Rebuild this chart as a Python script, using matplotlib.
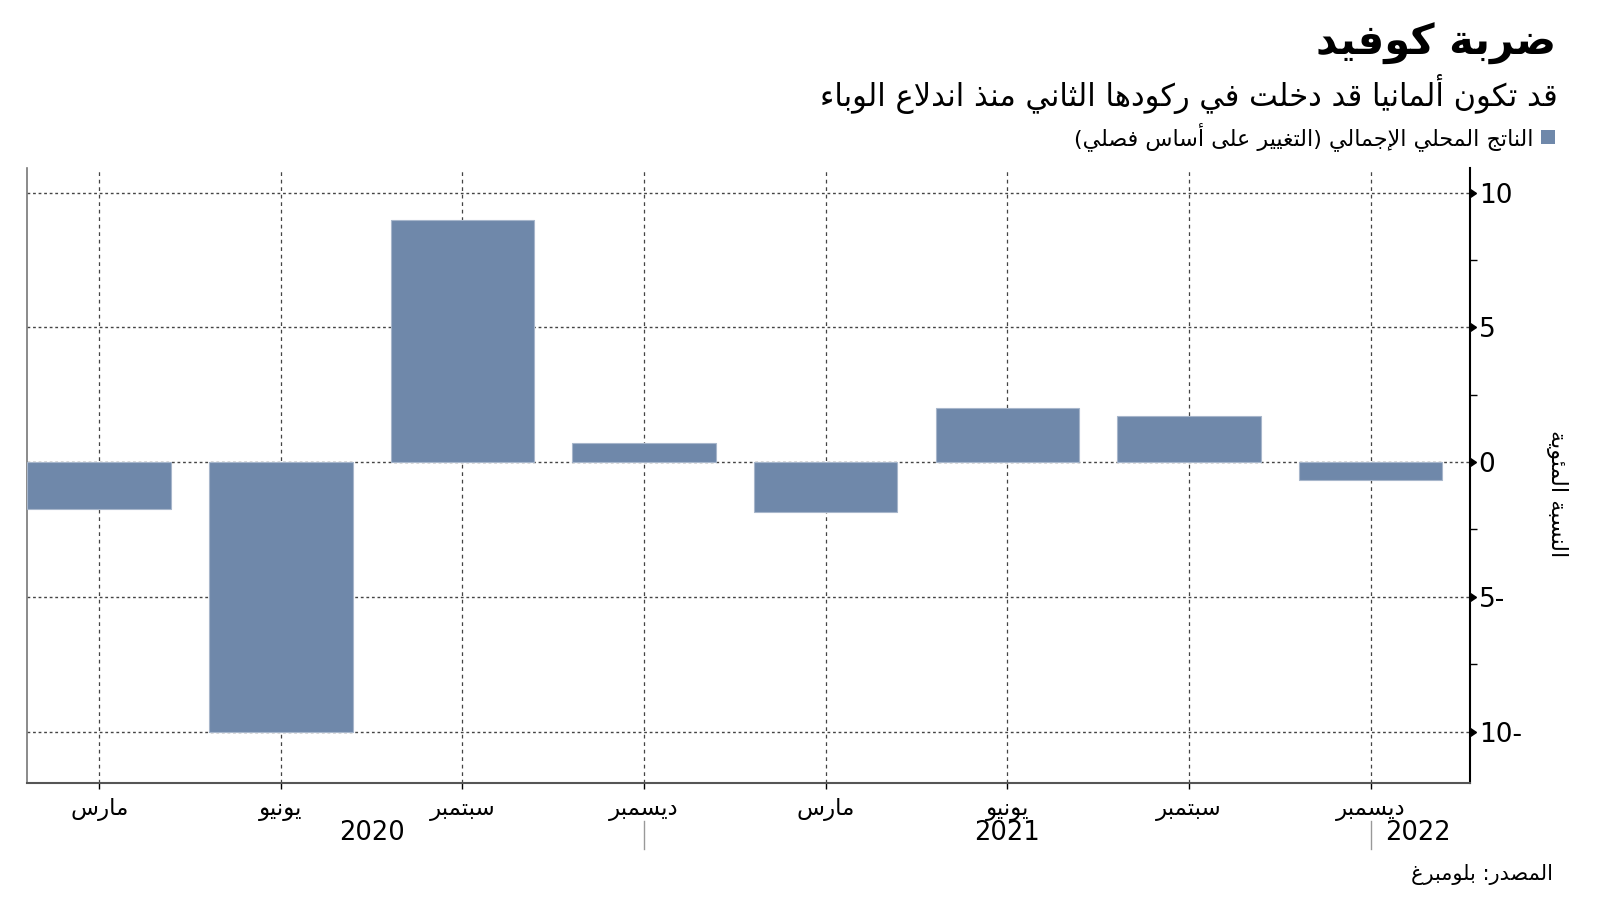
import matplotlib
matplotlib.use("Agg")
import matplotlib.pyplot as plt
from matplotlib.patches import Rectangle
import numpy as np

# --- данные ---
quarters = ['مارس', 'يونيو', 'سبتمبر', 'ديسمبر', 'مارس', 'يونيو', 'سبتمبر', 'ديسمبر']
gdp_change = [-1.75, -10.0, 9.0, 0.7, -1.85, 2.0, 1.7, -0.65]
years = ['2020', '2021', '2022']
year_pos = [1.5, 5.0, 7.26]
year_breaks = [3, 7]
y_ticks = [10, 5, 0, -5, -10]
y_tick_labels = ['10', '5', '0', '5-', '10-']

title = 'ضربة كوفيد'
subtitle = 'قد تكون ألمانيا قد دخلت في ركودها الثاني منذ اندلاع الوباء'
legend_label = 'الناتج المحلي الإجمالي (التغيير على أساس فصلي)'
y_label = 'النسبة المئوية'
source = 'المصدر: بلومبرغ'

BAR_COLOR = '#6f88aa'

# matplotlib не умеет сам соединять арабские буквы - делаем это вручную
# через формы представления (Arabic Presentation Forms-B) и переворачиваем строку
DUAL = {'ئ': 0xFE89, 'ب': 0xFE8F, 'ت': 0xFE95, 'ث': 0xFE99, 'ج': 0xFE9D, 'ح': 0xFEA1,
        'خ': 0xFEA5, 'س': 0xFEB1, 'ش': 0xFEB5, 'ص': 0xFEB9, 'ض': 0xFEBD, 'ط': 0xFEC1,
        'ظ': 0xFEC5, 'ع': 0xFEC9, 'غ': 0xFECD, 'ف': 0xFED1, 'ق': 0xFED5, 'ك': 0xFED9,
        'ل': 0xFEDD, 'م': 0xFEE1, 'ن': 0xFEE5, 'ه': 0xFEE9, 'ي': 0xFEF1}
RIGHT = {'آ': 0xFE81, 'أ': 0xFE83, 'ؤ': 0xFE85, 'إ': 0xFE87, 'ا': 0xFE8D, 'ة': 0xFE93,
         'د': 0xFEA9, 'ذ': 0xFEAB, 'ر': 0xFEAD, 'ز': 0xFEAF, 'و': 0xFEED, 'ى': 0xFEEF}
LAM_ALEF = {'آ': 0xFEF5, 'أ': 0xFEF7, 'إ': 0xFEF9, 'ا': 0xFEFB}
MIRROR = {'(': ')', ')': '('}


def shape_arabic(text):
    units = []  # (base code or char, joining type)
    i = 0
    while i < len(text):
        c = text[i]
        if c == 'ل' and i + 1 < len(text) and text[i + 1] in LAM_ALEF:
            units.append((LAM_ALEF[text[i + 1]], 'R'))
            i += 2
            continue
        if c in DUAL:
            units.append((DUAL[c], 'D'))
        elif c in RIGHT:
            units.append((RIGHT[c], 'R'))
        elif c == 'ء':
            units.append((0xFE80, 'U'))
        else:
            units.append((MIRROR.get(c, c), None))
        i += 1

    out = []
    for k, (base, jt) in enumerate(units):
        if jt is None:
            out.append(base)
            continue
        if jt == 'U':
            out.append(chr(base))
            continue
        prev_join = k > 0 and units[k - 1][1] == 'D'
        next_join = jt == 'D' and k + 1 < len(units) and units[k + 1][1] in ('D', 'R')
        if jt == 'D':
            if prev_join and next_join:
                code = base + 3
            elif prev_join:
                code = base + 1
            elif next_join:
                code = base + 2
            else:
                code = base
        else:
            code = base + 1 if prev_join else base
        out.append(chr(code))
    return ''.join(reversed(out))


plt.rcParams['font.family'] = ['DejaVu Sans']

fig = plt.figure(figsize=(16, 9.01), dpi=100)
ax = fig.add_axes([0.0166, 0.1313, 0.9024, 0.6817])

x = np.arange(len(gdp_change))
ax.bar(x, gdp_change, width=0.79, color=BAR_COLOR, edgecolor='#a7b6cb', linewidth=0.8, zorder=3)

ax.set_xlim(-0.4, 7.55)
ax.set_ylim(-11.9, 10.9)

# сетка
for yv in y_ticks:
    ax.axhline(yv, color='#444444', lw=1.0, ls=(0, (2, 2)), zorder=1)
for xv in x:
    ax.axvline(xv, color='#444444', lw=0.9, ls=(0, (3, 3)), zorder=1)

# ось Y справа
ax.yaxis.tick_right()
ax.set_yticks(y_ticks)
ax.set_yticklabels(y_tick_labels, fontsize=19)
ax.set_yticks([7.5, 2.5, -2.5, -7.5], minor=True)
ax.tick_params(axis='y', which='major', length=0, pad=6)
ax.tick_params(axis='y', which='minor', length=5, width=1, color='black', direction='out')
ax.plot(np.ones(len(y_ticks)), y_ticks, ls='none', marker=9, ms=6, color='black',
        transform=ax.get_yaxis_transform(), clip_on=False, zorder=5)
ax.text(1.06, 0.47, shape_arabic(y_label), transform=ax.transAxes, rotation=-90,
        ha='center', va='center', fontsize=16)

# ось X
ax.set_xticks(x)
ax.set_xticklabels([shape_arabic(q) for q in quarters], fontsize=16.5)
ax.tick_params(axis='x', length=4, width=1, color='black', pad=7)

for yr, pos in zip(years, year_pos):
    ax.text(pos, -0.082, yr, transform=ax.get_xaxis_transform(), ha='center', va='center',
            fontsize=18.5)
for b in year_breaks:
    ax.plot([b, b], [-0.062, -0.108], color='#999999', lw=1,
            transform=ax.get_xaxis_transform(), clip_on=False)

ax.spines['top'].set_visible(False)
ax.spines['left'].set_color('#777777')
ax.spines['left'].set_linewidth(1.2)
ax.spines['bottom'].set_color('#555555')
ax.spines['bottom'].set_linewidth(1.5)
ax.spines['right'].set_color('black')
ax.spines['right'].set_linewidth(1.5)

# заголовки
fig.text(0.9725, 0.951, shape_arabic(title), ha='right', va='center', fontsize=30,
         fontweight='bold')
fig.text(0.9738, 0.896, shape_arabic(subtitle), ha='right', va='center', fontsize=22)
fig.patches.append(Rectangle((0.9631, 0.8405), 0.0088, 0.0155, transform=fig.transFigure,
                             facecolor=BAR_COLOR, edgecolor='none'))
fig.text(0.9585, 0.848, shape_arabic(legend_label), ha='right', va='center', fontsize=16)
fig.text(0.9706, 0.0295, shape_arabic(source), ha='right', va='center', fontsize=15)

fig.savefig('out.png', dpi=100)
